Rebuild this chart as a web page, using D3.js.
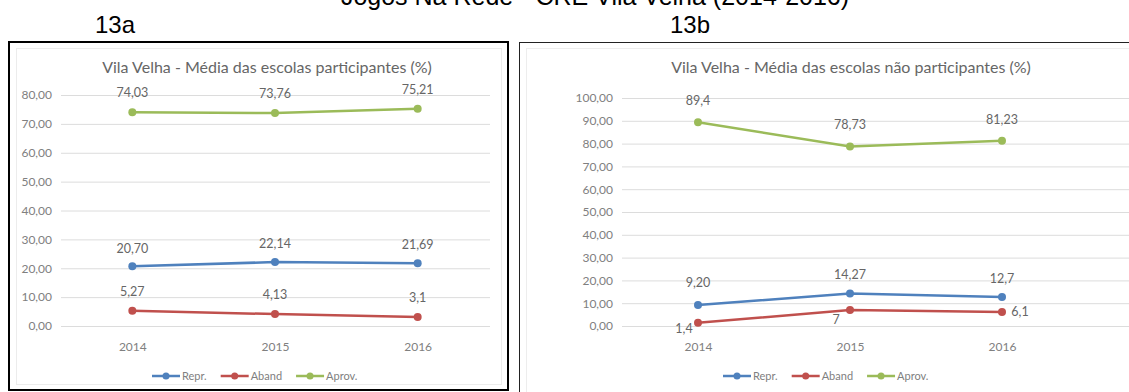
<!DOCTYPE html>
<html><head><meta charset="utf-8">
<script src="https://cdn.jsdelivr.net/npm/d3@7"></script>
<style>body{margin:0;background:#fff}svg{display:block}</style>
</head><body>
<svg id="c" width="1129" height="392"></svg>
<script>
const years = ["2014", "2015", "2016"];
const seriesNames = ["Repr.", "Aband", "Aprov."];
const seriesColors = ["#4F81BD", "#C0504D", "#9BBB59"];

const reprA = [20.70, 22.14, 21.69];
const abandA = [5.27, 4.13, 3.1];
const aprovA = [74.03, 73.76, 75.21];
const reprLabelsA = ["20,70", "22,14", "21,69"];
const abandLabelsA = ["5,27", "4,13", "3,1"];
const aprovLabelsA = ["74,03", "73,76", "75,21"];
const ticksA = [0, 10, 20, 30, 40, 50, 60, 70, 80];

const reprB = [9.20, 14.27, 12.7];
const abandB = [1.4, 7, 6.1];
const aprovB = [89.4, 78.73, 81.23];
const reprLabelsB = ["9,20", "14,27", "12,7"];
const abandLabelsB = ["1,4", "7", "6,1"];
const aprovLabelsB = ["89,4", "78,73", "81,23"];
const ticksB = [0, 10, 20, 30, 40, 50, 60, 70, 80, 90, 100];

const mainTitle = "Jogos Na Rede - CRE Vila Velha (2014-2016)";
const panelTitles = ["13a", "13b"];
const chartTitles = ["Vila Velha - Média das escolas participantes (%)", "Vila Velha - Média das escolas não participantes (%)"];

const svg = d3.select("#c");
const FONT = "Lato, 'Open Sans', sans-serif";
const TXT = "#808080";
const ARIAL = "Arial, 'Liberation Sans', sans-serif";

svg.append("text").attr("x", 595).attr("y", 5).attr("text-anchor", "middle")
  .attr("font-family", ARIAL).attr("font-size", 25).attr("fill", "#000").text(mainTitle);

// panel boxes
svg.append("rect").attr("x", 9).attr("y", 42).attr("width", 499).attr("height", 348)
  .attr("fill", "#fff").attr("stroke", "#000").attr("stroke-width", 2);
svg.append("rect").attr("x", 16.5).attr("y", 48.5).attr("width", 485).attr("height", 336)
  .attr("fill", "none").attr("stroke", "#ececec").attr("stroke-width", 1);
svg.append("rect").attr("x", 519.5).attr("y", 42.5).attr("width", 620).attr("height", 360)
  .attr("fill", "#fff").attr("stroke", "#222").attr("stroke-width", 1);
svg.append("rect").attr("x", 526.5).attr("y", 48.5).attr("width", 620).attr("height", 360)
  .attr("fill", "none").attr("stroke", "#ededed").attr("stroke-width", 1);

svg.append("text").attr("x", 115).attr("y", 33).attr("text-anchor", "middle")
  .attr("font-family", ARIAL).attr("font-size", 24).text(panelTitles[0]);
svg.append("text").attr("x", 690).attr("y", 33).attr("text-anchor", "middle")
  .attr("font-family", ARIAL).attr("font-size", 24).text(panelTitles[1]);

function chart(cfg) {
  const g = svg.append("g");
  const x = d3.scalePoint().domain(years).range(cfg.xr).padding(0.5);
  const y = d3.scaleLinear().domain(cfg.yd).range([326, cfg.yTop]);
  // title
  g.append("text").attr("x", cfg.titleX).attr("y", 73).attr("text-anchor", "middle")
    .attr("font-family", FONT).attr("font-size", 16).attr("fill", "#666").text(cfg.title);
  // grid
  const yAxis = d3.axisLeft(y).tickValues(cfg.ticks).tickSize(-(cfg.gridEnd - cfg.xr[0]))
    .tickFormat(d => d3.format(".2f")(d).replace(".", ","));
  const ga = g.append("g").attr("transform", `translate(${cfg.xr[0]},0)`).call(yAxis);
  ga.select(".domain").remove();
  ga.selectAll("line").attr("stroke", "#dcdcdc").attr("stroke-width", 1);
  ga.selectAll("text").attr("font-family", FONT).attr("font-size", 12).attr("fill", TXT).attr("x", cfg.tickX);
  // x axis labels
  const xAxis = d3.axisBottom(x).tickSize(0);
  const gx = g.append("g").attr("transform", `translate(0,${cfg.xLabelY})`).call(xAxis);
  gx.select(".domain").remove();
  gx.selectAll("text").attr("font-family", FONT).attr("font-size", 12).attr("fill", TXT);
  // series
  const line = d3.line().x((d, i) => x(years[i])).y(d => y(d));
  cfg.series.forEach((s, si) => {
    g.append("path").datum(s.values).attr("d", line).attr("fill", "none")
      .attr("stroke", seriesColors[si]).attr("stroke-width", 2.5);
    g.selectAll(null).data(s.values).enter().append("circle")
      .attr("cx", (d, i) => x(years[i])).attr("cy", d => y(d)).attr("r", 4)
      .attr("fill", seriesColors[si]);
    g.selectAll(null).data(s.values).enter().append("text")
      .attr("x", (d, i) => x(years[i]) + (s.dx ? s.dx[i] : 0))
      .attr("y", (d, i) => y(d) + (s.dy ? s.dy[i] : -12))
      .attr("text-anchor", "middle").attr("font-family", FONT).attr("font-size", 12.5).attr("fill", "#666")
      .text((d, i) => s.labels[i]);
  });
  // legend
  const lg = g.append("g");
  let lx = cfg.legendX;
  seriesNames.forEach((n, i) => {
    lg.append("line").attr("x1", lx).attr("x2", lx + 28).attr("y1", 376).attr("y2", 376)
      .attr("stroke", seriesColors[i]).attr("stroke-width", 2.5);
    lg.append("circle").attr("cx", lx + 14).attr("cy", 376).attr("r", 3.5).attr("fill", seriesColors[i]);
    const t = lg.append("text").attr("x", lx + 30).attr("y", 380).attr("font-family", FONT)
      .attr("font-size", 11).attr("fill", TXT).text(n);
    lx += 30 + t.node().getComputedTextLength() + 14;
  });
}

chart({
  xr: [61, 489], gridEnd: 490, yd: [0, 80], yTop: 95, ticks: ticksA, titleX: 267, xLabelY: 339, legendX: 152, tickX: -9,
  title: chartTitles[0],
  series: [
    {values: reprA, labels: reprLabelsA, dy: [-13, -14, -14]},
    {values: abandA, labels: abandLabelsA, dy: [-15, -15, -15]},
    {values: aprovA, labels: aprovLabelsA, dy: [-15, -15, -15]}
  ]
});
chart({
  xr: [622, 1078], gridEnd: 1129, yd: [0, 100], yTop: 98, ticks: ticksB, titleX: 851, xLabelY: 339, legendX: 723, tickX: -9,
  title: chartTitles[1],
  series: [
    {values: reprB, labels: reprLabelsB, dy: [-18, -14, -14]},
    {values: abandB, labels: abandLabelsB, dx: [-14, -14, 18], dy: [10, 14, 4]},
    {values: aprovB, labels: aprovLabelsB, dy: [-17, -17, -17]}
  ]
});
</script>
</body></html>
